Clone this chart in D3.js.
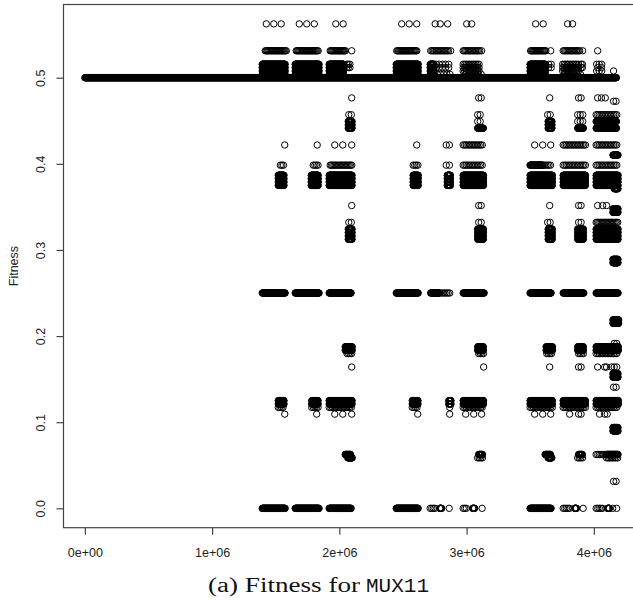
<!DOCTYPE html>
<html>
<head>
<meta charset="utf-8">
<script src="https://cdn.jsdelivr.net/npm/d3@7"></script>
<style>
  body { margin: 0; background: #fff; }
  svg { display: block; }
</style>
</head>
<body>
<svg id="chart" width="633" height="605"></svg>
<script>
// Best-of-population fitness on MUX11, logged every `logStep` generations.
// Stretches are run-length encoded: [fitness values, first gen, last gen, every n-th log].
const logStep = 2500;

const nearHalf = [0.50390625, 0.5078125, 0.51171875, 0.515625];
const band44 = [0.44140625, 0.4453125, 0.44921875];
const band38 = [0.375, 0.37890625, 0.3828125, 0.38671875];
const band32 = [0.3125, 0.31640625, 0.3203125, 0.32421875];
const band18 = [0.18359375, 0.1875];
const band12 = [0.12109375, 0.125];

const baseline = [
  [[0.5], 0, 4179e3, 1]
];

const upperStretches = [
  [nearHalf, 1394e3, 1575e3, 1], [[0.53125], 1418e3, 1583e3, 3],
  [nearHalf, 1653e3, 1842e3, 1], [[0.53125], 1661e3, 1834e3, 3],
  [nearHalf, 1920e3, 2034e3, 1], [[0.51171875, 0.515625], 2058e3, 2090e3, 5], [[0.53125], 1928e3, 2050e3, 3],
  [nearHalf, 2447e3, 2620e3, 1], [[0.53125], 2451e3, 2612e3, 3],
  [nearHalf, 2714e3, 2745e3, 1], [[0.51171875, 0.515625], 2760e3, 2880e3, 10], [[0.50390625], 2770e3, 2880e3, 10], [[0.53125], 2718e3, 2860e3, 4],
  [[0.5078125, 0.51171875, 0.515625], 2973e3, 3100e3, 5], [[0.50390625], 2990e3, 3120e3, 10], [[0.53125], 2973e3, 3110e3, 4],
  [nearHalf, 3499e3, 3621e3, 1], [[0.51171875, 0.515625], 3645e3, 3665e3, 8], [[0.53125], 3503e3, 3630e3, 3],
  [[0.5078125, 0.51171875, 0.515625], 3755e3, 3880e3, 5], [[0.50390625], 3770e3, 3900e3, 10], [[0.51171875, 0.515625], 3900e3, 3910e3, 4], [[0.53125], 3759e3, 3890e3, 4],
  [[0.515625, 0.5078125], 4022e3, 4069e3, 8], [[0.51171875], 4030e3, 4061e3, 12], [[0.53125], 4030e3, 4069e3, 16]
];

const middleStretches = [
  // 0.44 - 0.48
  [[0.45703125], 2074e3, 2097e3, 8], [band44, 2070e3, 2101e3, 1],
  [[0.4765625], 3095e3, 3118e3, 8], [[0.45703125, 0.44921875], 3087e3, 3126e3, 8], [[0.44140625], 3087e3, 3134e3, 1],
  [[0.45703125], 3637e3, 3661e3, 8], [band44, 3641e3, 3672e3, 1],
  [[0.4765625], 3880e3, 3904e3, 8], [[0.45703125, 0.44921875], 3873e3, 3913e3, 8], [[0.44140625], 3873e3, 3920e3, 1],
  [[0.4765625], 4030e3, 4100e3, 12], [[0.47265625], 4155e3, 4175e3, 8], [[0.45703125], 4018e3, 4191e3, 5],
  [[0.44921875], 4018e3, 4180e3, 1], [[0.44140625], 4018e3, 4180e3, 1],
  // 0.37 - 0.42
  [[0.3984375], 1536e3, 1567e3, 5], [band38, 1520e3, 1567e3, 1],
  [[0.3984375], 1795e3, 1838e3, 5], [band38, 1779e3, 1834e3, 1],
  [[0.3984375], 1928e3, 2101e3, 4], [band38, 1920e3, 2101e3, 1],
  [[0.3984375], 2580e3, 2620e3, 5], [band38, 2580e3, 2620e3, 1],
  [[0.421875, 0.3984375], 2840e3, 2870e3, 10], [band38, 2848e3, 2875e3, 1],
  [[0.421875, 0.3984375], 2973e3, 3134e3, 5], [band38, 2973e3, 3134e3, 1],
  [[0.3984375], 3499e3, 3600e3, 1], [[0.3984375], 3610e3, 3672e3, 5], [band38, 3499e3, 3675e3, 1],
  [[0.421875, 0.3984375], 3759e3, 3935e3, 5], [band38, 3759e3, 3935e3, 1],
  [[0.421875, 0.3984375], 4018e3, 4191e3, 5], [band38, 4018e3, 4191e3, 1],
  [[0.37109375], 4160e3, 4191e3, 1], [[0.41015625], 4150e3, 4191e3, 1],
  // 0.28 - 0.35
  [[0.33203125], 2074e3, 2097e3, 8], [band32, 2070e3, 2101e3, 1],
  [[0.3515625, 0.33203125], 3095e3, 3118e3, 8], [band32, 3087e3, 3134e3, 1],
  [[0.33203125], 3637e3, 3661e3, 8], [band32, 3641e3, 3675e3, 1],
  [[0.3515625, 0.33203125], 3880e3, 3904e3, 8], [band32, 3873e3, 3920e3, 1],
  [[0.34375, 0.34765625], 4150e3, 4191e3, 1], [[0.33203125], 4018e3, 4191e3, 4], [band32, 4018e3, 4191e3, 1],
  [[0.28515625, 0.2890625], 4150e3, 4191e3, 1]
];

const quarterStretches = [
  [[0.25], 1394e3, 1575e3, 1], [[0.25], 1653e3, 1842e3, 1], [[0.25], 1920e3, 2093e3, 1],
  [[0.25], 2447e3, 2620e3, 1], [[0.25], 2718e3, 2789e3, 1], [[0.25], 2805e3, 2875e3, 5],
  [[0.25], 2973e3, 3138e3, 1], [[0.25], 3499e3, 3664e3, 1], [[0.25], 3759e3, 3923e3, 1],
  [[0.25], 4018e3, 4191e3, 1]
];

const lowerStretches = [
  // 0.14 - 0.22
  [[0.21484375, 0.21875], 4150e3, 4195e3, 1], [[0.19140625], 4160e3, 4180e3, 8],
  [band18, 2046e3, 2101e3, 1], [[0.1796875], 2060e3, 2101e3, 5],
  [band18, 3087e3, 3134e3, 1], [[0.1796875], 3095e3, 3134e3, 5],
  [band18, 3625e3, 3675e3, 1], [[0.1796875], 3630e3, 3670e3, 5],
  [band18, 3873e3, 3920e3, 1], [[0.1796875], 3880e3, 3920e3, 5], [[0.1640625], 3880e3, 3904e3, 8],
  [band18, 4018e3, 4195e3, 1], [[0.1796875], 4018e3, 4191e3, 5],
  [[0.15234375, 0.15625], 4150e3, 4191e3, 1], [[0.140625], 4155e3, 4175e3, 8],
  // 0.09 - 0.125
  [band12, 1520e3, 1567e3, 1], [[0.1171875], 1520e3, 1567e3, 5],
  [band12, 1783e3, 1834e3, 1], [[0.1171875], 1783e3, 1834e3, 5],
  [band12, 1920e3, 2101e3, 1], [[0.1171875], 1920e3, 2101e3, 5],
  [band12, 2573e3, 2620e3, 1], [[0.1171875], 2573e3, 2620e3, 5],
  [band12, 2860e3, 2879e3, 1],
  [band12, 2973e3, 3134e3, 1], [[0.1171875], 2973e3, 3134e3, 5],
  [band12, 3499e3, 3675e3, 1], [[0.1171875], 3499e3, 3675e3, 5],
  [band12, 3759e3, 3935e3, 1], [[0.1171875], 3759e3, 3935e3, 5], [[0.109375], 3880e3, 3904e3, 8],
  [band12, 4018e3, 4195e3, 1], [[0.1171875], 4018e3, 4191e3, 5], [[0.109375], 4085e3, 4105e3, 8],
  [[0.08984375, 0.09375], 4150e3, 4191e3, 1],
  // 0.03 - 0.0625
  [[0.0625], 2046e3, 2090e3, 1], [[0.05859375], 2066e3, 2101e3, 1],
  [[0.0625], 3095e3, 3126e3, 1], [[0.05859375], 3087e3, 3134e3, 5],
  [[0.0625], 3617e3, 3660e3, 1], [[0.05859375], 3640e3, 3672e3, 1],
  [[0.0625], 3880e3, 3912e3, 1], [[0.05859375], 3873e3, 3920e3, 5],
  [[0.0625], 4018e3, 4100e3, 5], [[0.0625], 4100e3, 4191e3, 1], [[0.05859375], 4100e3, 4191e3, 5],
  [[0.03125], 4155e3, 4175e3, 8],
  // zero fitness
  [[0], 1394e3, 1575e3, 1], [[0], 1653e3, 1842e3, 1], [[0], 1920e3, 2093e3, 1],
  [[0], 2447e3, 2620e3, 1], [[0], 2714e3, 2757e3, 5], [[0], 2789e3, 2805e3, 1],
  [[0], 2973e3, 3001e3, 5], [[0], 3048e3, 3064e3, 1],
  [[0], 3499e3, 3664e3, 1],
  [[0], 3759e3, 3810e3, 5], [[0], 3849e3, 3865e3, 1],
  [[0], 4018e3, 4069e3, 5], [[0], 4108e3, 4124e3, 1]
];

// Isolated logged samples: [generation, fitness]
const singles = [
  [1426e3, 0.5625], [1485e3, 0.5625], [1543e3, 0.5625],
  [1685e3, 0.5625], [1744e3, 0.5625], [1803e3, 0.5625],
  [1972e3, 0.5625], [2030e3, 0.5625],
  [2490e3, 0.5625], [2549e3, 0.5625], [2608e3, 0.5625],
  [2753e3, 0.5625], [2793e3, 0.5625], [2851e3, 0.5625],
  [3001e3, 0.5625], [3040e3, 0.5625],
  [3543e3, 0.5625], [3602e3, 0.5625],
  [3794e3, 0.5625], [3833e3, 0.5625],
  [2097e3, 0.53125], [2875e3, 0.53125], [3118e3, 0.53125], [3661e3, 0.53125], [3912e3, 0.53125],
  [4155e3, 0.5078125],
  [2097e3, 0.4765625], [3653e3, 0.4765625],
  [1571e3, 0.421875], [1826e3, 0.421875], [1964e3, 0.421875], [2027e3, 0.421875], [2097e3, 0.421875],
  [2608e3, 0.421875], [3535e3, 0.421875], [3598e3, 0.421875], [3661e3, 0.421875],
  [2097e3, 0.3515625], [3653e3, 0.3515625],
  [4030e3, 0.3515625], [4069e3, 0.3515625], [4100e3, 0.3515625],
  [2097e3, 0.1640625], [3134e3, 0.1640625], [3653e3, 0.1640625],
  [4030e3, 0.1640625], [4085e3, 0.1640625], [4100e3, 0.1640625], [4140e3, 0.1640625], [4160e3, 0.1640625], [4180e3, 0.1640625],
  [1571e3, 0.109375], [1822e3, 0.109375], [1964e3, 0.109375], [2027e3, 0.109375], [2097e3, 0.109375],
  [2616e3, 0.109375], [2867e3, 0.1171875], [2867e3, 0.109375],
  [2993e3, 0.109375], [3056e3, 0.109375], [3118e3, 0.109375],
  [3535e3, 0.109375], [3598e3, 0.109375], [3661e3, 0.109375],
  [3810e3, 0.109375], [4045e3, 0.109375],
  [2863e3, 0], [3122e3, 0], [3916e3, 0], [4148e3, 0], [4179e3, 0]
];

const xTicks = [0, 1e6, 2e6, 3e6, 4e6];
const yTicks = [0, 0.1, 0.2, 0.3, 0.4, 0.5];
const yTitle = "Fitness";
const captionText = "(a) Fitness for";
const captionCode = "MUX11";

// ---- expand the run-length stretches into logged samples ----
const samples = [];
[baseline, upperStretches, middleStretches, quarterStretches, lowerStretches].forEach(list => {
  list.forEach(([fits, first, last, every]) => {
    const stride = every * logStep;
    fits.forEach(f => {
      for (let g = first; g <= last + 1; g += stride) samples.push([g, f]);
    });
  });
});
singles.forEach(p => samples.push(p));

// ---- layout ----
const width = 633, height = 605;
const plot = { left: 63.5, right: 640, top: 4.5, bottom: 527.7 };

// R-style 4% padding around the data range
const xExt = d3.extent(samples, d => d[0]);
const yExt = d3.extent(samples, d => d[1]);
const xPad = (xExt[1] - xExt[0]) * 0.04;
const yPad = (yExt[1] - yExt[0]) * 0.04;

const x = d3.scaleLinear().domain([xExt[0] - xPad, xExt[1] + xPad]).range([plot.left, plot.right]);
const y = d3.scaleLinear().domain([yExt[0] - yPad, yExt[1] + yPad]).range([plot.bottom, plot.top]);

const svg = d3.select("#chart");
svg.append("rect").attr("width", width).attr("height", height).attr("fill", "#fff");

// points
svg.append("g")
  .attr("fill", "none")
  .attr("stroke", "#000")
  .attr("stroke-width", 1)
  .selectAll("circle")
  .data(samples)
  .join("circle")
  .attr("cx", d => x(d[0]))
  .attr("cy", d => y(d[1]))
  .attr("r", 3.2);

// frame
svg.append("rect")
  .attr("x", plot.left).attr("y", plot.top)
  .attr("width", plot.right - plot.left).attr("height", plot.bottom - plot.top)
  .attr("fill", "none").attr("stroke", "#444").attr("stroke-width", 1.2);

const axisFont = "'Liberation Sans', Arial, Helvetica, sans-serif";

// x axis
const sciFmt = d => d3.format(".0e")(d).replace(/e([+-])(\d)$/, "e$10$2");
const gx = svg.append("g")
  .attr("transform", `translate(0,${plot.bottom})`)
  .call(d3.axisBottom(x).tickValues(xTicks).tickFormat(sciFmt).tickSize(7).tickPadding(13));
gx.select(".domain").remove();
gx.selectAll(".tick line").attr("stroke", "#444").attr("stroke-width", 1.2);
gx.selectAll(".tick text")
  .attr("font-family", axisFont).attr("font-size", 12.5).attr("fill", "#222");

// y axis
const gy = svg.append("g")
  .attr("transform", `translate(${plot.left},0)`)
  .call(d3.axisLeft(y).tickValues(yTicks).tickFormat(d3.format(".1f")).tickSize(7));
gy.select(".domain").remove();
gy.selectAll(".tick line").attr("stroke", "#444").attr("stroke-width", 1.2);
gy.selectAll(".tick text")
  .attr("font-family", axisFont).attr("font-size", 12.5).attr("fill", "#222")
  .attr("x", null).attr("dy", null)
  .attr("text-anchor", "middle")
  .attr("transform", "translate(-18.5,0) rotate(-90)");

// y title
svg.append("text")
  .attr("transform", `translate(18,${(plot.top + plot.bottom) / 2}) rotate(-90)`)
  .attr("text-anchor", "middle")
  .attr("font-family", axisFont).attr("font-size", 12.5).attr("fill", "#222")
  .text(yTitle);

// caption: serif words followed by the benchmark name in typewriter face
svg.append("text")
  .attr("x", 208).attr("y", 592)
  .attr("font-size", 20.5).attr("fill", "#111")
  .attr("font-family", "'Liberation Serif', 'DejaVu Serif', serif")
  .attr("textLength", 152).attr("lengthAdjust", "spacingAndGlyphs")
  .text(captionText);
svg.append("text")
  .attr("x", 366).attr("y", 592)
  .attr("font-size", 20.5).attr("fill", "#111")
  .attr("font-family", "'Liberation Mono', 'DejaVu Sans Mono', monospace")
  .attr("textLength", 63).attr("lengthAdjust", "spacingAndGlyphs")
  .text(captionCode);
</script>
</body>
</html>
